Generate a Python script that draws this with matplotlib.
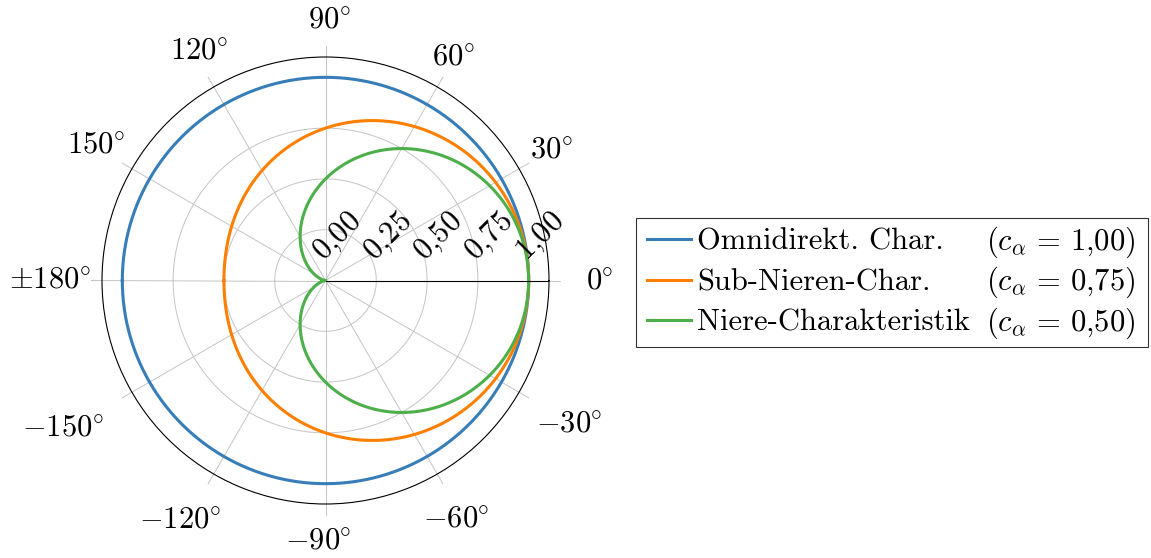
import numpy as np
import matplotlib
matplotlib.use("Agg")
import matplotlib.pyplot as plt

plt.rcParams.update({
    "font.family": "serif",
    "font.serif": ["cmr10"],
    "mathtext.fontset": "cm",
    "axes.unicode_minus": False,
    "font.size": 22,
})

# Richtcharakteristiken erster Ordnung: r(theta) = c + (1 - c) * cos(theta)
NAMES = ["Omnidirekt. Char.", "Sub-Nieren-Char.", "Niere-Charakteristik"]
C_ALPHA = [1.00, 0.75, 0.50]
C_LABELS = ["1{,}00", "0{,}75", "0{,}50"]
COLORS = ["#377eb8", "#ff7f00", "#4daf4a"]

ANGLE_TICKS = [0, 30, 60, 90, 120, 150, 180, -150, -120, -90, -60, -30]
ANGLE_LABELS = ["0", "30", "60", "90", "120", "150", r"\pm180",
                "-150", "-120", "-90", "-60", "-30"]
R_TICKS = [0.00, 0.25, 0.50, 0.75, 1.00]
R_LABELS = ["$0{,}00$", "$0{,}25$", "$0{,}50$", "$0{,}75$", "$1{,}00$"]
R_MAX = 1.1

# Lage der Winkelbeschriftungen relativ zum Mittelpunkt (Pixel)
ANGLE_LABEL_OFFSETS = [(274, -1), (226, 130), (128, 223), (4, 260),
                       (-127, 229), (-230, 135), (-276, 0), (-263, -148),
                       (-146, -240), (-7, -261), (131, -239), (244, -144)]

W, H = 1151, 558
fig = plt.figure(figsize=(W / 100, H / 100), dpi=100)
ax = fig.add_axes([102 / W, (H - 504) / H, 447 / W, 447 / H], projection="polar")

theta = np.linspace(-np.pi, np.pi, 1441)
grid_kw = dict(color="#c4c4c4", lw=0.7, zorder=1)

# Gitter selbst zeichnen, Speichen ragen etwas über den Rand hinaus
for r in R_TICKS[1:]:
    ax.plot(theta, np.full_like(theta, r), **grid_kw)
for a in ANGLE_TICKS:
    t = np.deg2rad(a)
    if a == 0:
        ax.plot([t, t], [R_MAX, 1.155], clip_on=False, **grid_kw)
        ax.plot([t, t], [0, R_MAX], color="black", lw=0.8, zorder=4)
    else:
        ax.plot([t, t], [0, 1.155], clip_on=False, **grid_kw)

for name, c, col in zip(NAMES, C_ALPHA, COLORS):
    r = c + (1 - c) * np.cos(theta)
    ax.plot(theta, r, color=col, lw=2.2, label=name, zorder=3)

ax.set_ylim(0, R_MAX)
ax.grid(False)
ax.set_xticks([])
ax.set_yticks([])
ax.spines["polar"].set_linewidth(0.8)
ax.spines["polar"].set_color("black")

for lab, (dx, dy) in zip(ANGLE_LABELS, ANGLE_LABEL_OFFSETS):
    ax.annotate(rf"${lab}\!^\circ$", xy=(0.5, 0.5), xycoords="axes fraction",
                xytext=(dx, dy), textcoords="offset pixels",
                ha="center", va="center", annotation_clip=False)

for r, lab in zip(R_TICKS, R_LABELS):
    ax.annotate(lab, xy=(0, r), xytext=(12, 44), textcoords="offset pixels",
                rotation=45, rotation_mode="anchor", ha="center", va="center",
                zorder=5)

leg = ax.legend(loc="center left", mode="expand",
                bbox_to_anchor=(636 / W, (H - 348) / H, 512 / W, 131 / H),
                bbox_transform=fig.transFigure, frameon=True, fancybox=False,
                edgecolor="black", borderpad=0.35, labelspacing=0.42,
                handlelength=1.45, handletextpad=0.2, borderaxespad=0)
leg.get_frame().set_linewidth(0.8)

# Parameterwerte rechtsbündig neben die Legendeneinträge setzen
fig.canvas.draw()
renderer = fig.canvas.get_renderer()
inv = fig.transFigure.inverted()
for txt, cl in zip(leg.get_texts(), C_LABELS):
    bb = txt.get_window_extent(renderer)
    y = inv.transform((0, (bb.y0 + bb.y1) / 2))[1]
    fig.text(1135 / W, y, rf"$(c_\alpha\,=\,{cl})$", ha="right", va="center")

fig.savefig("out.png", dpi=100)
